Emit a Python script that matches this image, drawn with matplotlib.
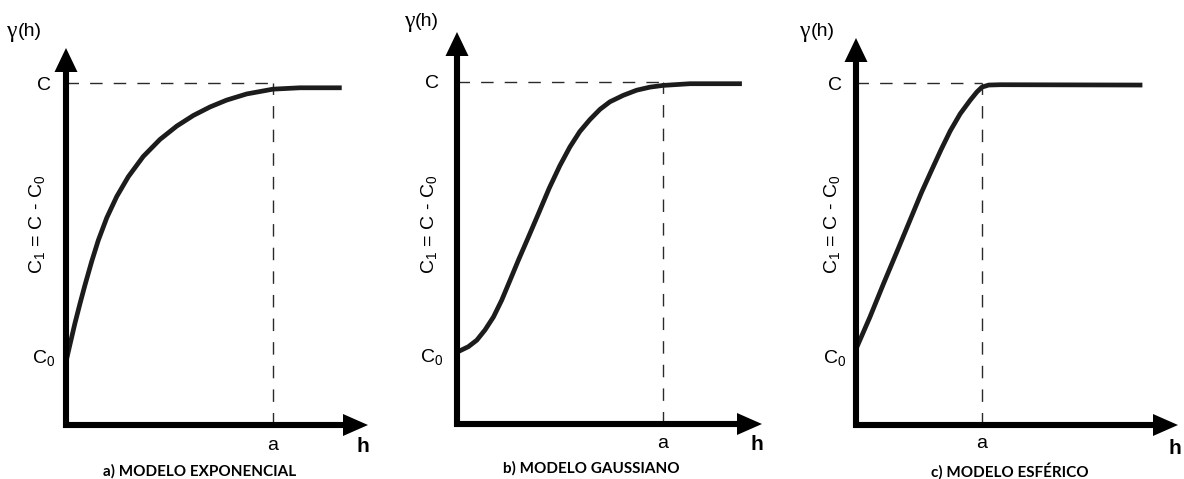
import numpy as np
import matplotlib
matplotlib.use('Agg')
import matplotlib.pyplot as plt
from matplotlib.patches import Polygon

plt.rcParams['font.family'] = 'Liberation Sans'
plt.rcParams['mathtext.fontset'] = 'custom'
plt.rcParams['mathtext.rm'] = 'Liberation Sans'

# h em unidades do alcance a, gamma em unidades do patamar C
h_exp = [0.0, 0.019, 0.043, 0.068, 0.092, 0.124, 0.156, 0.197, 0.245, 0.301,
         0.373, 0.454, 0.535, 0.615, 0.696, 0.776, 0.873, 1.0, 1.13, 1.332]
g_exp = [0.185, 0.235, 0.297, 0.356, 0.41, 0.478, 0.54, 0.606, 0.668, 0.726,
         0.785, 0.835, 0.874, 0.905, 0.93, 0.95, 0.968, 0.982, 0.986, 0.986]

h_gau = [0.0, 0.055, 0.096, 0.136, 0.177, 0.217, 0.258, 0.298, 0.347, 0.396,
         0.448, 0.499, 0.548, 0.596, 0.645, 0.694, 0.742, 0.807, 0.872, 0.937,
         1.0, 1.131, 1.383]
g_gau = [0.21, 0.226, 0.245, 0.275, 0.313, 0.362, 0.421, 0.479, 0.547, 0.616,
         0.69, 0.755, 0.81, 0.855, 0.89, 0.92, 0.942, 0.961, 0.976, 0.985,
         0.99, 0.995, 0.995]

h_esf = [0.0, 0.111, 0.217, 0.324, 0.43, 0.52, 0.6, 0.675, 0.748, 0.827,
         0.907, 0.96, 1.0, 1.053, 1.146, 2.273]
g_esf = [0.222, 0.316, 0.412, 0.506, 0.6, 0.68, 0.745, 0.805, 0.86, 0.91,
         0.95, 0.974, 0.988, 0.994, 0.995, 0.994]

curvas = [(h_exp, g_exp), (h_gau, g_gau), (h_esf, g_esf)]
titulos = ['a) MODELO EXPONENCIAL', 'b) MODELO GAUSSIANO', 'c) MODELO ESFÉRICO']
patamar = 1.0
efeito_pepita = 0.2
alcance = 1.0

W, H = 1184, 479
# layout em pixels: origem, px do alcance e do patamar, pontas das setas, posições dos textos
layout = [
    dict(ox=66, oy=425, ax=207, cy=342, ytip=48, xtip=368,
         gx=16.5, gy=31, lc=-22, lc1=-28.5, hx=363, hy=445, ay=444, tit=(199.5, 471)),
    dict(ox=457, oy=424, ax=206, cy=342, ytip=32, xtip=762,
         gx=414, gy=21, lc=-25, lc1=-27, hx=757, hy=443, ay=441, tit=(591, 468)),
    dict(ox=856, oy=425, ax=126, cy=342, ytip=38, xtip=1178,
         gx=809.5, gy=31, lc=-21, lc1=-23.5, hx=1175, hy=447, ay=442, tit=(1010, 471)),
]

fig = plt.figure(figsize=(W / 100, H / 100), dpi=100)

for (hh, gg), tit, L in zip(curvas, titulos, layout):
    ax = fig.add_axes([0, 0, 1, 1])
    ax.patch.set_visible(False)
    ax.axis('off')
    sx, sy = L['ax'], L['cy']
    ax.set_xlim(-L['ox'] / sx, (W - L['ox']) / sx)
    ax.set_ylim(-(H - L['oy']) / sy, L['oy'] / sy)

    # linhas tracejadas
    ax.plot([0, alcance], [patamar, patamar], color='#2a2a2a', lw=1.0, dashes=(9, 8))
    ax.plot([alcance, alcance], [0, patamar], color='#2a2a2a', lw=1.0, dashes=(9, 8))

    # curva do modelo
    ax.plot(hh, gg, color='#1c1c1c', lw=3.4, solid_capstyle='butt',
            solid_joinstyle='round', zorder=3)

    # eixos com setas
    ytop = (L['oy'] - L['ytip']) / sy
    ylen = 24 / sy
    xtip = (L['xtip'] - L['ox']) / sx
    xlen = 25 / sx
    ax.plot([0, 0], [-3 / sy, ytop - ylen + 1 / sy], color='black', lw=4.4,
            solid_capstyle='butt', zorder=4)
    ax.plot([-3 / sx, xtip - xlen + 1 / sx], [0, 0], color='black', lw=4.4,
            solid_capstyle='butt', zorder=4)
    ax.add_patch(Polygon([[0, ytop], [-11.5 / sx, ytop - ylen], [11.5 / sx, ytop - ylen]],
                         closed=True, color='black', lw=0, zorder=4))
    ax.add_patch(Polygon([[xtip, 0], [xtip - xlen, 11 / sy], [xtip - xlen, -11 / sy]],
                         closed=True, color='black', lw=0, zorder=4))

    # rótulos
    fs = 14
    ax.text(L['lc'] / sx, patamar, 'C', ha='center', va='center_baseline', fontsize=fs)
    ax.text(L['lc'] / sx, efeito_pepita, 'C$_{0}$', ha='center', va='center_baseline',
            fontsize=fs)
    ax.text(L['lc1'] / sx, (L['oy'] - 224) / sy, 'C$_{1}$ = C - C$_{0}$', rotation=90,
            ha='center', va='center', fontsize=fs)
    ax.text(alcance, -(L['ay'] - L['oy']) / sy, 'a', ha='center', va='center_baseline',
            fontsize=fs)
    fig.text(L['hx'] / W, 1 - L['hy'] / H, 'h', ha='center', va='center_baseline',
             fontsize=15, fontweight='bold')
    fig.text(L['gx'] / W, 1 - L['gy'] / H, 'γ', ha='right', va='center',
             fontsize=17, family='Liberation Serif')
    fig.text((L['gx'] + 1) / W, 1 - L['gy'] / H, '(h)', ha='left', va='center',
             fontsize=14)
    fig.text(L['tit'][0] / W, 1 - L['tit'][1] / H, tit, ha='center', va='center',
             fontsize=11, fontweight='bold', family='Lato')

fig.savefig('out.png', dpi=100)
